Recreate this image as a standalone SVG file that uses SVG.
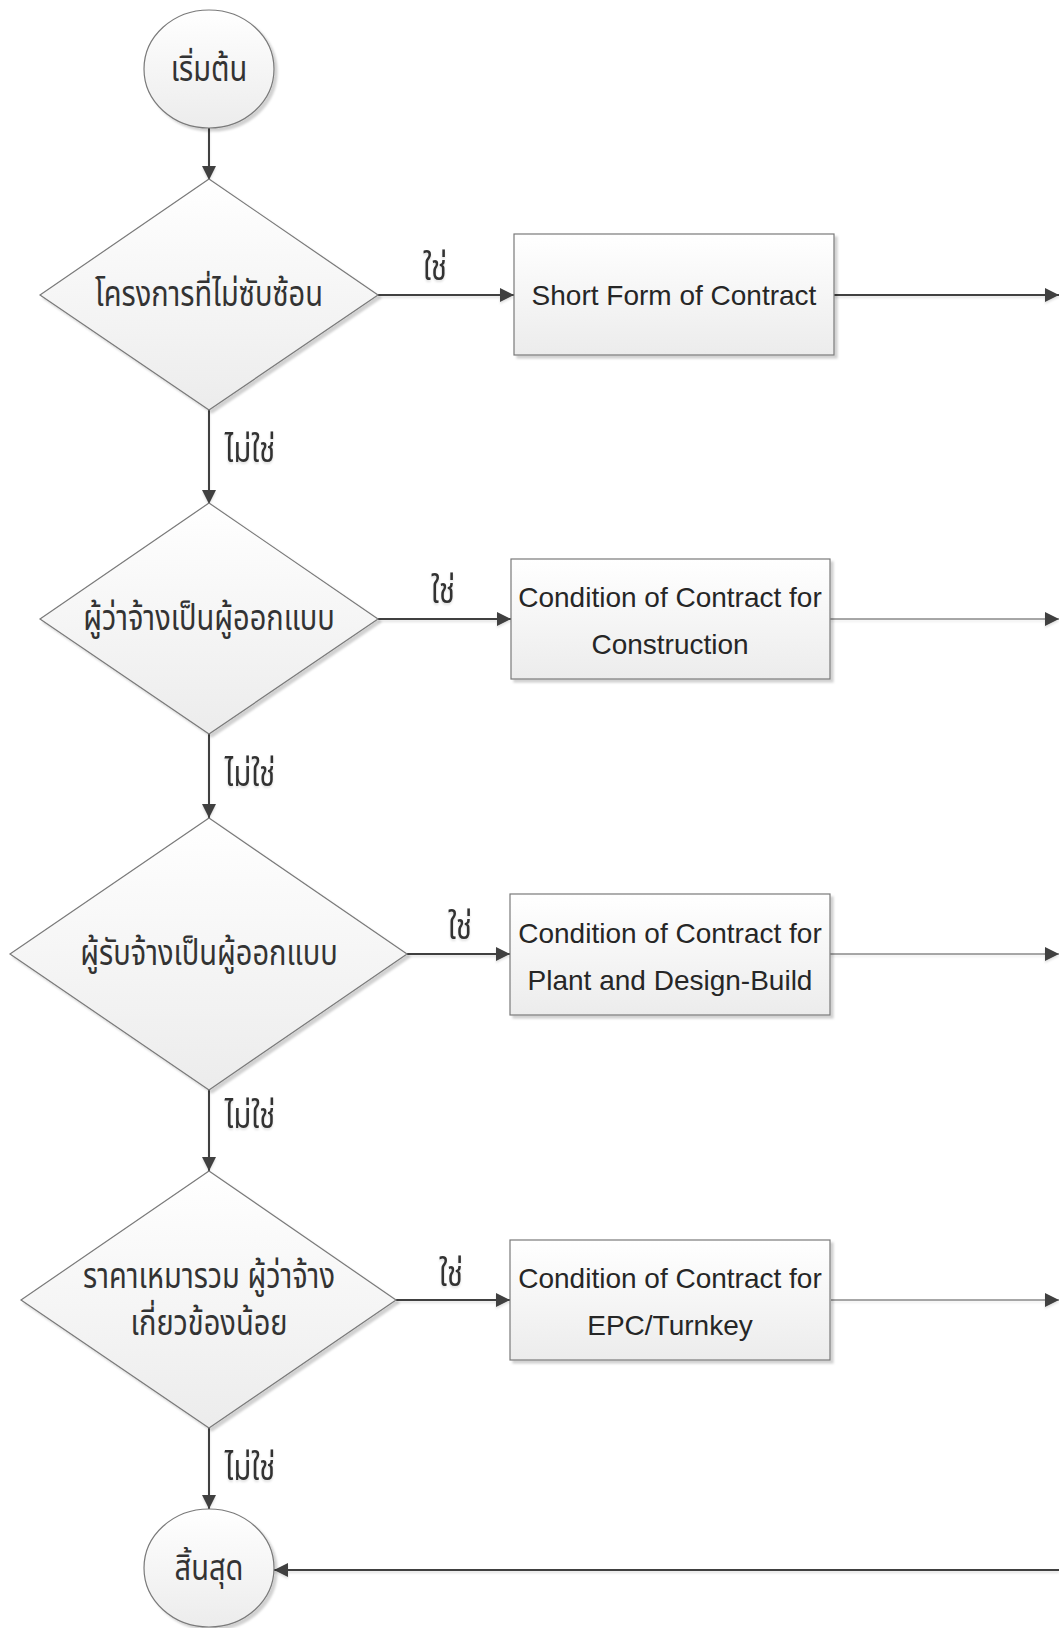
<svg xmlns="http://www.w3.org/2000/svg" width="1059" height="1628" viewBox="0 0 1059 1628">
  <style>
    .shape { fill: url(#shade); stroke: #7a7a7a; stroke-width: 1.2; filter: url(#drop); }
    .th { font-family: "Noto Sans Thai", "Noto Sans", "DejaVu Sans", sans-serif; fill: #333333; text-anchor: middle; font-size: 29px; }
    .en { font-family: "Liberation Sans", Arial, sans-serif; fill: #262626; text-anchor: middle; font-size: 28px; }
    .wire { stroke: #404040; stroke-width: 2; fill: none; }
    .wire-thin { stroke: #505050; stroke-width: 1.2; fill: none; }
  </style>
  <defs>
    <linearGradient id="shade" x1="0" y1="0" x2="0" y2="1">
      <stop offset="0" stop-color="#ffffff"/>
      <stop offset="1" stop-color="#ececec"/>
    </linearGradient>
    <filter id="drop" x="-10%" y="-10%" width="130%" height="130%">
      <feDropShadow dx="3" dy="3" stdDeviation="1.2" flood-color="#000000" flood-opacity="0.18"/>
    </filter>
    <filter id="wireShadow" x="-5%" y="-50%" width="110%" height="200%">
      <feDropShadow dx="0" dy="2" stdDeviation="0.8" flood-color="#000000" flood-opacity="0.12"/>
    </filter>
    <marker id="arrow" markerUnits="userSpaceOnUse" markerWidth="14" markerHeight="14" refX="14" refY="7" orient="auto">
      <path d="M0,0 L14,7 L0,14 z" fill="#404040"/>
    </marker>
  </defs>

  <rect width="1059" height="1628" fill="#ffffff"/>

  <!-- connectors -->
  <g id="connectors" filter="url(#wireShadow)">
    <!-- main vertical spine -->
    <line class="wire" x1="209" y1="128" x2="209" y2="180" marker-end="url(#arrow)"/>
    <line class="wire" x1="209" y1="410" x2="209" y2="504" marker-end="url(#arrow)"/>
    <line class="wire" x1="209" y1="734" x2="209" y2="818" marker-end="url(#arrow)"/>
    <line class="wire" x1="209" y1="1090" x2="209" y2="1171" marker-end="url(#arrow)"/>
    <line class="wire" x1="209" y1="1428" x2="209" y2="1509" marker-end="url(#arrow)"/>
    <!-- yes branches -->
    <line class="wire" x1="378" y1="295" x2="514" y2="295" marker-end="url(#arrow)"/>
    <line class="wire" x1="378" y1="619" x2="511" y2="619" marker-end="url(#arrow)"/>
    <line class="wire" x1="407" y1="954" x2="510" y2="954" marker-end="url(#arrow)"/>
    <line class="wire" x1="396" y1="1300" x2="510" y2="1300" marker-end="url(#arrow)"/>
    <!-- box outputs to the right edge -->
    <line class="wire" x1="834" y1="295" x2="1059" y2="295" marker-end="url(#arrow)"/>
    <line class="wire-thin" x1="830" y1="619" x2="1059" y2="619" marker-end="url(#arrow)"/>
    <line class="wire-thin" x1="830" y1="954" x2="1059" y2="954" marker-end="url(#arrow)"/>
    <line class="wire-thin" x1="831" y1="1300" x2="1059" y2="1300" marker-end="url(#arrow)"/>
    <!-- return into the end node -->
    <line class="wire" x1="1059" y1="1570" x2="274" y2="1570" marker-end="url(#arrow)"/>

    <!-- branch labels (Thai glyphs stretched vertically) -->
    <text class="th" transform="translate(435,280) scale(1,1.2)">ใช่</text>
    <text class="th" transform="translate(443,603) scale(1,1.2)">ใช่</text>
    <text class="th" transform="translate(460,939) scale(1,1.2)">ใช่</text>
    <text class="th" transform="translate(451,1286) scale(1,1.2)">ใช่</text>
    <text class="th" transform="translate(250,462) scale(1,1.2)">ไม่ใช่</text>
    <text class="th" transform="translate(250,786) scale(1,1.2)">ไม่ใช่</text>
    <text class="th" transform="translate(250,1128) scale(1,1.2)">ไม่ใช่</text>
    <text class="th" transform="translate(250,1480) scale(1,1.2)">ไม่ใช่</text>
  </g>

  <!-- start -->
  <g id="start">
    <ellipse class="shape" cx="209" cy="69" rx="65" ry="59"/>
    <text class="th" transform="translate(209,81) scale(1,1.2)">เริ่มต้น</text>
  </g>

  <!-- decision 1 -->
  <g id="decision-simple">
    <polygon class="shape" points="209,179 378,295 209,410 40,295"/>
    <text class="th" transform="translate(209,306) scale(1,1.2)">โครงการที่ไม่ซับซ้อน</text>
  </g>

  <!-- decision 2 -->
  <g id="decision-employer-design">
    <polygon class="shape" points="209,503 378,619 209,734 40,619"/>
    <text class="th" transform="translate(209,630) scale(1,1.2)">ผู้ว่าจ้างเป็นผู้ออกแบบ</text>
  </g>

  <!-- decision 3 -->
  <g id="decision-contractor-design">
    <polygon class="shape" points="209,818 407,954 209,1090 10,954"/>
    <text class="th" transform="translate(209,965) scale(1,1.2)">ผู้รับจ้างเป็นผู้ออกแบบ</text>
  </g>

  <!-- decision 4 -->
  <g id="decision-lump-sum">
    <polygon class="shape" points="209,1171 396,1300 209,1428 21,1300"/>
    <text class="th" transform="translate(209,1288) scale(1,1.2)"><tspan x="0" y="0">ราคาเหมารวม ผู้ว่าจ้าง</tspan><tspan x="0" y="39.5">เกี่ยวข้องน้อย</tspan></text>
  </g>

  <!-- contract boxes -->
  <g id="box-short-form">
    <rect class="shape" x="514" y="234" width="320" height="121"/>
    <text class="en" x="674" y="305">Short Form of Contract</text>
  </g>

  <g id="box-construction">
    <rect class="shape" x="511" y="559" width="319" height="120"/>
    <text class="en" x="670" y="607"><tspan x="670" y="607">Condition of Contract for</tspan><tspan x="670" y="654">Construction</tspan></text>
  </g>

  <g id="box-plant-design-build">
    <rect class="shape" x="510" y="894" width="320" height="121"/>
    <text class="en" x="670" y="943"><tspan x="670" y="943">Condition of Contract for</tspan><tspan x="670" y="990">Plant and Design-Build</tspan></text>
  </g>

  <g id="box-epc-turnkey">
    <rect class="shape" x="510" y="1240" width="320" height="120"/>
    <text class="en" x="670" y="1288"><tspan x="670" y="1288">Condition of Contract for</tspan><tspan x="670" y="1335">EPC/Turnkey</tspan></text>
  </g>

  <!-- end -->
  <g id="end">
    <ellipse class="shape" cx="209" cy="1568" rx="65" ry="59"/>
    <text class="th" transform="translate(209,1580) scale(1,1.2)">สิ้นสุด</text>
  </g>
</svg>
